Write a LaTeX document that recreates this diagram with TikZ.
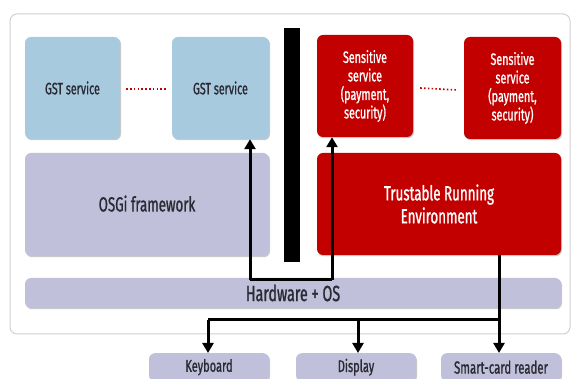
\documentclass[tikz,border=0pt]{standalone}
\usepackage{fontspec}
\setmainfont{Fira Sans}[FakeStretch=0.65, FakeBold=1]
\usetikzlibrary{arrows.meta,shadows,calc}
\definecolor{svcblue}{HTML}{A8CADF}
\definecolor{lav}{HTML}{C0C0DA}
\definecolor{trered}{HTML}{C20000}
\definecolor{ink}{HTML}{2A2A34}
\tikzset{
  box/.style={rounded corners=6pt, inner sep=0pt, align=center, text=ink,
    drop shadow={shadow xshift=1pt, shadow yshift=-1.2pt, opacity=0.35, fill=black!60}},
  bluebox/.style={box, fill=svcblue},
  lavbox/.style={box, fill=lav},
  redbox/.style={box, fill=trered, text=white},
  link/.style={line width=3pt, -{Triangle[length=10pt,width=11pt]}},
  wire/.style={line width=3pt},
  dots/.style={draw=trered, line width=1.6pt, dash pattern=on 1.6pt off 2.2pt},
}
\begin{document}
\begin{tikzpicture}[x=1pt,y=-1pt, font=\fontsize{16.5}{18}\selectfont]
\useasboundingbox (0,0) rectangle (571,379);
\fill[white] (0,0) rectangle (571,379);
% outer platform panel
\draw[black!18, line width=1pt, fill=white, rounded corners=7pt] (10,14) rectangle (570,334);

% services
\node[bluebox, minimum width=95pt, minimum height=102pt] (g1) at (72.5,88) {GST service};
\node[bluebox, minimum width=97pt, minimum height=102pt] (g2) at (220.5,88) {GST service};
\node[redbox, minimum width=96pt, minimum height=102pt, font=\fontsize{16.5}{18.5}\selectfont] (s1) at (365,86) {Sensitive\\service\\(payment,\\security)};
\node[redbox, minimum width=97pt, minimum height=102pt, font=\fontsize{16.5}{18.5}\selectfont] (s2) at (512.5,88) {Sensitive\\service\\(payment,\\security)};

% frameworks
\node[lavbox, minimum width=244pt, minimum height=103pt, font=\fontsize{20.5}{20}\selectfont] (osgi) at (147,204.5) {\raisebox{2pt}{OSGi framework}};
\node[redbox, minimum width=244pt, minimum height=102pt, font=\fontsize{20.5}{23}\selectfont] (tre) at (439,204) {Trustable Running\\Environment};

% isolation wall
\fill[black] (284,28) rectangle (300,262);

% hardware layer
\node[lavbox, minimum width=536pt, minimum height=30pt, font=\fontsize{22}{22}\selectfont] (hw) at (293,293) {Hardware + OS};

% peripherals
\node[lavbox, minimum width=120pt, minimum height=28pt, anchor=north, font=\fontsize{17}{16}\selectfont] (kb) at (209,353) {Keyboard};
\node[lavbox, minimum width=120pt, minimum height=28pt, anchor=north, font=\fontsize{17}{16}\selectfont] (disp) at (356,353) {Display};
\node[lavbox, minimum width=120pt, minimum height=28pt, anchor=north, font=\fontsize{17.5}{16}\selectfont] (scr) at (501,353) {Smart-card reader};

% dotted continuation marks
\draw[dots] ($(g1.east)+(6,1)$) coordinate (d1) -- ($(g2.west)+(-6,1)$) coordinate (d2);
\draw[dots] ($(s1.east)+(7,2)$) coordinate (d3) -- ($(s2.west)+(-7,2)$) coordinate (d4);

% OS to services
\coordinate (hl) at (250,280);
\coordinate (hr) at (332,280);
\draw[wire] (hl) -- (hr);
\draw[link] (hl) -- (hl |- g2.south);
\draw[link] (hr) -- (hr |- s1.south);

% devices bus
\coordinate (bt) at (499,255);
\coordinate (bb) at (499,320);
\coordinate (bk) at (208,320);
\coordinate (bd) at (358,320);
\draw[wire] (bt) -- (bb) -- (bk);
\draw[link] (bb) -- (bb |- scr.north);
\draw[link] (bk) -- (bk |- kb.north);
\draw[link] (bd) -- (bd |- disp.north);
\end{tikzpicture}
\end{document}
